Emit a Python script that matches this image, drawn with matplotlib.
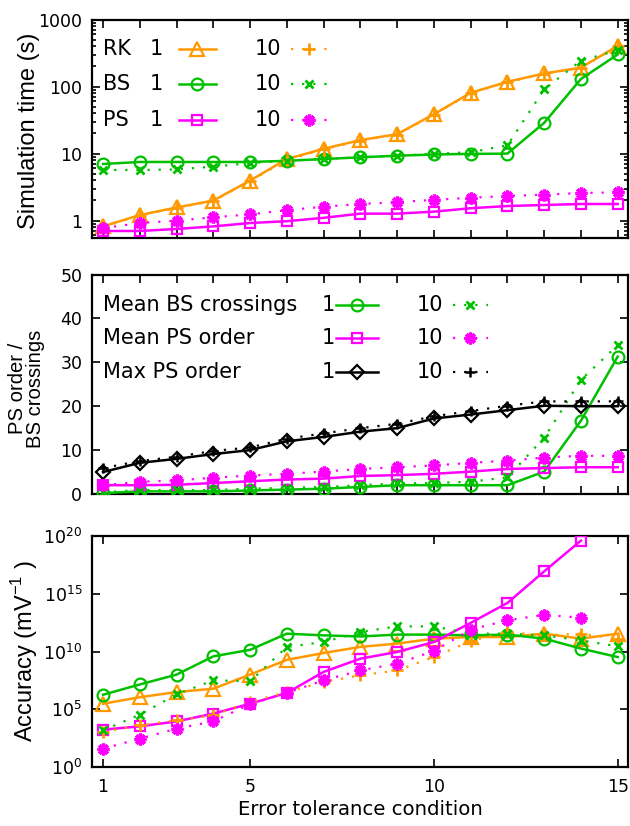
#!/usr/bin/env python3
"""
Three stacked panels vs. error tolerance condition:
simulation time, PS order / BS crossings, and accuracy.
Each method is shown for two settings (1 = solid, 10 = dotted).
"""

import numpy as np
import matplotlib.pyplot as plt
from matplotlib.lines import Line2D
from matplotlib.ticker import FixedLocator, LogLocator, NullFormatter, NullLocator

# Colours (gnuplot-like)
ORANGE = "#ff9900"
GREEN = "#00c000"
MAGENTA = "#ff00ff"
BLACK = "#000000"

# ---------------------------------------------------------------------------
# Data
# ---------------------------------------------------------------------------
tolerance = np.arange(1, 16)

# Simulation time (s)
time_rk1 = [0.82, 1.21, 1.57, 1.99, 3.96, 8.3, 11.8, 15.9, 19.5, 38.7, 80.7, 118, 157, 192, 405]
time_rk10 = [0.80, 1.19, 1.55, 1.96, 3.90, 8.0, 11.6, 15.6, 19.2, 38.0, 80.0, 117, 155, 190, 400]
time_bs1 = [7.0, 7.5, 7.5, 7.5, 7.5, 7.8, 8.3, 8.8, 9.3, 9.7, 9.9, 10.0, 28.8, 130, 302]
time_bs10 = [5.7, 5.7, 5.8, 6.4, 7.2, 7.8, 8.3, 8.8, 9.3, 9.9, 10.5, 13.3, 91, 244, 347]
time_ps1 = [0.70, 0.70, 0.75, 0.82, 0.92, 0.98, 1.10, 1.27, 1.27, 1.36, 1.53, 1.65, 1.71, 1.77, 1.77]
time_ps10 = [0.77, 0.92, 1.00, 1.12, 1.24, 1.43, 1.61, 1.77, 1.88, 2.04, 2.19, 2.33, 2.44, 2.58, 2.64]

# PS order / BS crossings
bs_cross1 = [0.2, 0.6, 0.6, 0.6, 0.8, 1.0, 1.2, 1.6, 2.0, 2.0, 2.0, 2.0, 5.1, 16.7, 31.3]
bs_cross10 = [0.4, 0.9, 0.9, 0.9, 1.2, 1.4, 1.6, 2.0, 2.4, 2.5, 2.8, 3.8, 12.8, 26.0, 33.9]
ps_mean1 = [2.0, 2.0, 2.1, 2.5, 2.9, 3.3, 3.5, 4.1, 4.3, 4.6, 5.1, 5.7, 5.9, 6.1, 6.1]
ps_mean10 = [2.0, 2.8, 3.1, 3.7, 4.2, 4.6, 5.1, 5.7, 6.1, 6.5, 7.1, 7.6, 8.3, 8.7, 8.7]
ps_max1 = [5.0, 7.1, 8.0, 9.1, 10.0, 12.0, 13.0, 14.2, 15.0, 17.2, 18.1, 19.1, 20.1, 20.0, 20.0]
ps_max10 = [5.9, 7.5, 8.5, 9.8, 10.6, 12.6, 13.8, 15.0, 16.0, 17.7, 18.9, 20.1, 21.1, 21.1, 21.1]

# Accuracy (mV^-1)
acc_rk1 = [3.0e5, 1.1e6, 3.1e6, 6.0e6, 1.0e8, 1.9e9, 7.4e9, 2.5e10, 4.8e10, 1.3e11,
           1.8e11, 1.8e11, 3.5e11, 1.3e11, 3.5e11]
acc_rk10 = [1.1e3, 4.1e3, 1.1e4, 3.0e4, 4.3e5, 3.1e6, 2.3e7, 8.7e7, 2.3e8, 3.3e9,
            8.1e10, 4.9e11, 2.5e11, 3.5e11, 1.3e11]
acc_bs1 = [1.8e6, 1.4e7, 1.0e8, 3.8e9, 1.4e10, 3.5e11, 2.5e11, 2.0e11, 2.9e11, 2.9e11,
           2.5e11, 2.9e11, 1.3e11, 1.8e10, 3.3e9]
acc_bs10 = [1.5e3, 3.4e4, 1.9e6, 3.2e7, 2.6e7, 2.5e10, 6.6e10, 4.9e11, 1.5e12, 1.5e12,
            3.5e11, 3.5e11, 2.5e11, 9.3e10, 2.8e10]
acc_ps1 = [1.7e3, 3.3e3, 8.9e3, 4.2e4, 3.0e5, 2.6e6, 1.7e8, 2.4e9, 9.1e9, 6.6e10,
           3.0e12, 1.6e14, 8.7e16, 4.0e19, np.nan]
acc_ps10 = [39, 280, 2.1e3, 8.9e3, 2.7e5, 2.6e6, 3.2e7, 2.3e8, 8.9e8, 1.1e10,
            7.9e11, 5.0e12, 1.5e13, 8.5e12, np.nan]

# marker styles for the two settings of each method
STYLE_1 = {
    "RK": dict(marker="^", ms=9.5, mfc="none", mew=1.6),
    "BS": dict(marker="o", ms=8.5, mfc="none", mew=1.6),
    "PS": dict(marker="s", ms=7, mfc="none", mew=1.6),
    "MAX": dict(marker="D", ms=7, mfc="none", mew=1.6),
}
STYLE_10 = {
    "RK": dict(marker="+", ms=8.5, mew=2.0),
    "BS": dict(marker="x", ms=5.5, mew=2.0),
    "PS": dict(marker=(8, 2, 0), ms=8.5, mew=2.4),
    "MAX": dict(marker="+", ms=7.5, mew=1.8),
}
DOTTED = (0, (1, 4))

H_FONT = "DejaVu Sans"
V_FONT = "Liberation Sans"


def plot_pair(ax, y1, y10, color, key):
    ax.plot(tolerance, y1, "-", color=color, lw=1.8, **STYLE_1[key], zorder=3)
    ax.plot(tolerance, y10, color=color, ls=DOTTED, lw=1.6, **STYLE_10[key], zorder=4)


def legend_row(ax, y, label, color, key, x_label, x_one, x_line, x_ten, x_dot):
    """Gnuplot-style key row: 'label 1 ---o--- 10 ...+...'."""
    tr = ax.transAxes
    kw = dict(transform=tr, va="center", ha="left", fontsize=15, family=H_FONT)
    ax.text(x_label, y, label, **kw)
    ax.text(x_one, y, "1", **kw)
    ax.text(x_ten, y, "10", **kw)
    xm = 0.5 * (x_line[0] + x_line[1])
    ax.add_line(Line2D(x_line, [y, y], transform=tr, color=color, lw=1.8))
    ax.add_line(Line2D([xm], [y], transform=tr, color=color, ls="none", **STYLE_1[key]))
    xm = 0.5 * (x_dot[0] + x_dot[1])
    ax.add_line(Line2D(x_dot, [y, y], transform=tr, color=color, lw=1.6, ls=DOTTED))
    ax.add_line(Line2D([xm], [y], transform=tr, color=color, ls="none", **STYLE_10[key]))


def style_axes(ax):
    for sp in ax.spines.values():
        sp.set_linewidth(1.6)
    ax.tick_params(which="both", direction="in", top=True, right=True,
                   labelsize=12.5, pad=7, width=1.2)
    ax.tick_params(which="major", length=6)
    ax.tick_params(which="minor", length=3)
    for lab in ax.get_xticklabels() + ax.get_yticklabels():
        lab.set_family(H_FONT)
    ax.set_xlim(0.7, 15.28)


def main():
    plt.rcParams["mathtext.fontset"] = "dejavusans"
    W, H = 630, 826
    fig = plt.figure(figsize=(W / 100, H / 100), dpi=100)

    def rect(top, bottom, left=92, right=628):
        return [left / W, 1 - bottom / H, (right - left) / W, (bottom - top) / H]

    ax1 = fig.add_axes(rect(19.6, 238))
    ax2 = fig.add_axes(rect(274.5, 494))
    ax3 = fig.add_axes(rect(536, 767))

    # ---------------- panel 1: simulation time ----------------
    plot_pair(ax1, time_rk1, time_rk10, ORANGE, "RK")
    plot_pair(ax1, time_bs1, time_bs10, GREEN, "BS")
    plot_pair(ax1, time_ps1, time_ps10, MAGENTA, "PS")
    ax1.set_yscale("log")
    ax1.set_ylim(0.55, 1000)
    ax1.yaxis.set_major_locator(FixedLocator([1, 10, 100, 1000]))
    ax1.set_yticklabels(["1", "10", "100", "1000"])
    ax1.yaxis.set_minor_locator(LogLocator(base=10, subs=np.arange(2, 10)))
    ax1.yaxis.set_minor_formatter(NullFormatter())
    ax1.xaxis.set_major_locator(FixedLocator(tolerance))
    ax1.set_xticklabels([])
    style_axes(ax1)
    ax1.set_ylabel("Simulation time (s)", family=V_FONT, fontsize=17)
    ax1.yaxis.set_label_coords(-0.097, 0.49)

    for y, lab, col, key in [(0.867, "RK", ORANGE, "RK"),
                             (0.703, "BS", GREEN, "BS"),
                             (0.540, "PS", MAGENTA, "PS")]:
        legend_row(ax1, y, lab, col, key, 0.020, 0.108, (0.162, 0.231), 0.303, (0.371, 0.440))

    # ---------------- panel 2: PS order / BS crossings ----------------
    plot_pair(ax2, bs_cross1, bs_cross10, GREEN, "BS")
    plot_pair(ax2, ps_mean1, ps_mean10, MAGENTA, "PS")
    plot_pair(ax2, ps_max1, ps_max10, BLACK, "MAX")
    ax2.set_ylim(0, 50)
    ax2.yaxis.set_major_locator(FixedLocator([0, 10, 20, 30, 40, 50]))
    ax2.set_yticklabels(["0", "10", "20", "30", "40", "50"])
    ax2.yaxis.set_minor_locator(NullLocator())
    ax2.xaxis.set_major_locator(FixedLocator(tolerance))
    ax2.set_xticklabels([])
    style_axes(ax2)
    ax2.set_ylabel("PS order /\nBS crossings", family=V_FONT, fontsize=14.6, linespacing=0.95)
    ax2.yaxis.set_label_coords(-0.088, 0.48)

    for y, lab, col, key in [(0.861, "Mean BS crossings", GREEN, "BS"),
                             (0.709, "Mean PS order", MAGENTA, "PS"),
                             (0.557, "Max PS order", BLACK, "MAX")]:
        legend_row(ax2, y, lab, col, key, 0.020, 0.428, (0.456, 0.534), 0.605, (0.673, 0.739))

    # ---------------- panel 3: accuracy ----------------
    plot_pair(ax3, acc_rk1, acc_rk10, ORANGE, "RK")
    plot_pair(ax3, acc_bs1, acc_bs10, GREEN, "BS")
    plot_pair(ax3, acc_ps1, acc_ps10, MAGENTA, "PS")
    ax3.set_yscale("log")
    ax3.set_ylim(1, 1e20)
    ax3.yaxis.set_major_locator(FixedLocator([1, 1e5, 1e10, 1e15, 1e20]))
    ax3.set_yticklabels([r"$10^{0}$", r"$10^{5}$", r"$10^{10}$", r"$10^{15}$", r"$10^{20}$"])
    ax3.yaxis.set_minor_locator(NullLocator())
    ax3.xaxis.set_major_locator(FixedLocator([1, 5, 10, 15]))
    ax3.set_xticklabels(["1", "5", "10", "15"])
    style_axes(ax3)
    ax3.tick_params(axis="x", pad=8)
    ax3.set_ylabel(r"Accuracy (mV$^{\mathregular{-1}}$ )", family=V_FONT, fontsize=17)
    ax3.yaxis.set_label_coords(-0.097, 0.5)
    ax3.set_xlabel("Error tolerance condition", family=H_FONT, fontsize=14.2, labelpad=3)

    fig.savefig("out.png", dpi=100, facecolor="white")
    plt.close(fig)


if __name__ == "__main__":
    main()
